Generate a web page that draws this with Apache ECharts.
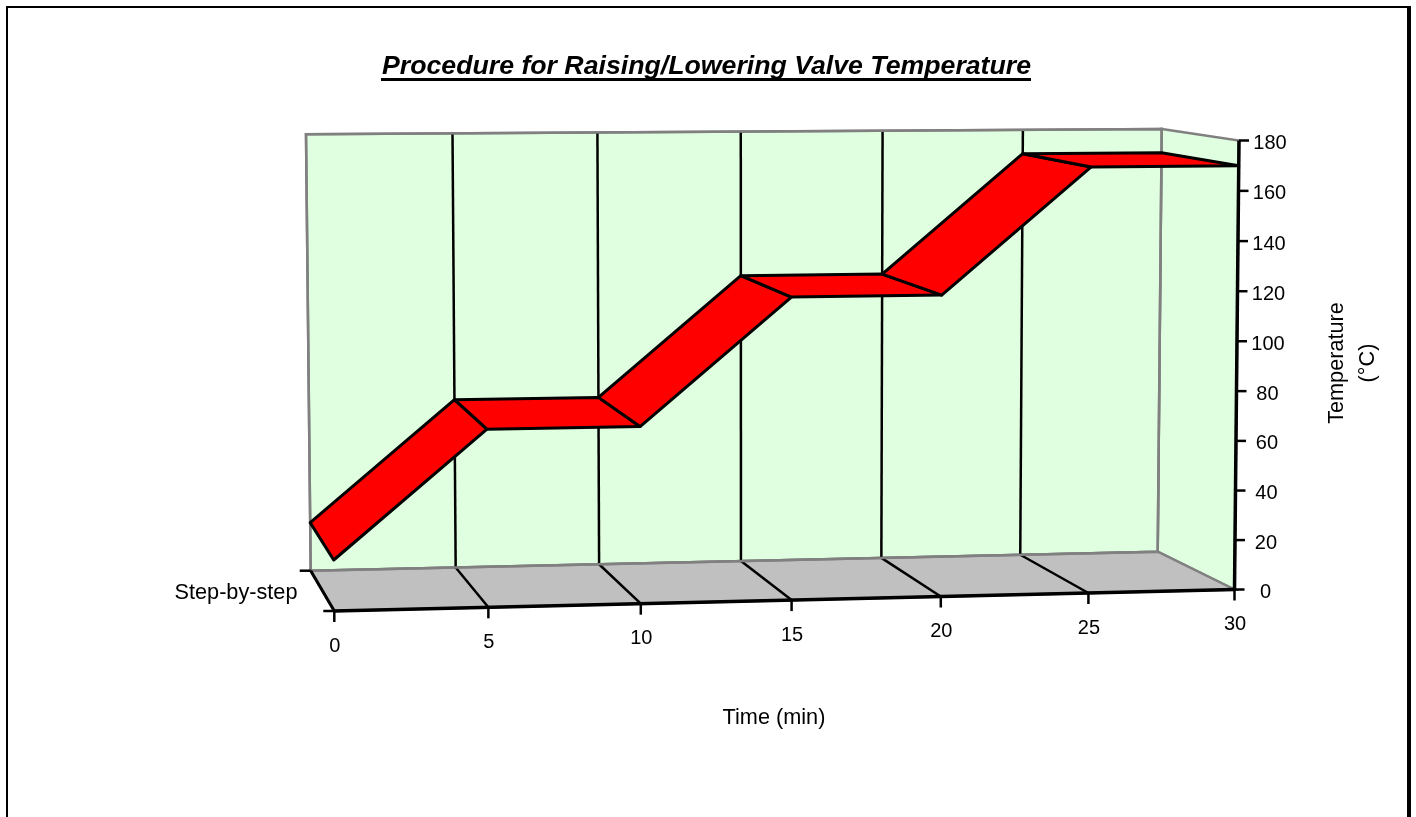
<!DOCTYPE html>
<html>
<head>
<meta charset="utf-8">
<style>html,body{margin:0;padding:0;background:#fff}#chart{width:1416px;height:817px}</style>
<script src="https://cdn.jsdelivr.net/npm/echarts@6/dist/echarts.min.js"></script>
</head>
<body>
<div id="chart"></div>
<script>
// Heating programme: time in minutes, valve temperature in degrees Celsius.
const times = [0, 5, 10, 15, 20, 25, 30];
const temperatures = [20, 70, 70, 120, 120, 170, 170];
const timeTicks = [0, 5, 10, 15, 20, 25, 30];
const temperatureTicks = [0, 20, 40, 60, 80, 100, 120, 140, 160, 180];
const seriesName = 'Step-by-step';
const titleText = 'Procedure for Raising/Lowering Valve Temperature';
const timeAxisName = 'Time (min)';
const temperatureAxisName = 'Temperature\n(°C)';

// Where the front and back planes of the box land on the page:
// bottom-left, bottom-right, top-right, top-left.
const FRONT_PLANE = [[334.3, 611], [1234.5, 589.5], [1239, 140.5], [329, 147.5]];
const BACK_PLANE = [[310.7, 570.7], [1157.7, 551.7], [1161.7, 129], [306, 134.3]];

const FONT = '20px "Liberation Sans", Arial, sans-serif';
const NAME_FONT = '21.7px "Liberation Sans", Arial, sans-serif';
const WALL = '#E0FFE0', FLOOR = '#C0C0C0', EDGE = '#808080', INK = '#000', RIBBON = '#FF0000';
const T_MAX = 30, V_MAX = 180;

// Projective map from the unit square onto a quadrilateral.
function planeMap(q) {
  const [[x0, y0], [x1, y1], [x2, y2], [x3, y3]] = q;
  const dx1 = x1 - x2, dx2 = x3 - x2, sx = x0 - x1 + x2 - x3;
  const dy1 = y1 - y2, dy2 = y3 - y2, sy = y0 - y1 + y2 - y3;
  const det = dx1 * dy2 - dx2 * dy1;
  const g = (sx * dy2 - dx2 * sy) / det, h = (dx1 * sy - sx * dy1) / det;
  const a = x1 - x0 + g * x1, b = x3 - x0 + h * x3;
  const d = y1 - y0 + g * y1, e = y3 - y0 + h * y3;
  return (u, v) => {
    const w = g * u + h * v + 1;
    return [(a * u + b * v + x0) / w, (d * u + e * v + y0) / w];
  };
}
const front = planeMap(FRONT_PLANE), back = planeMap(BACK_PLANE);

// Turns (time, temperature) into a page position on the chosen plane,
// going through the cartesian scales of the hidden grid first.
function projector(params, api) {
  const cs = params.coordSys;
  return (t, v, plane) => {
    const p = api.coord([t, v]);
    return plane((p[0] - cs.x) / cs.width, (cs.y + cs.height - p[1]) / cs.height);
  };
}
const poly = (points, style) => ({ type: 'polygon', shape: { points }, style });
const line = (a, b, stroke, lineWidth) => ({
  type: 'line',
  shape: { x1: a[0], y1: a[1], x2: b[0], y2: b[1] },
  style: { stroke, lineWidth, lineCap: 'butt' }
});
const label = (text, x, y, font) => ({
  type: 'text',
  style: { text, x, y, font: font || FONT, fill: INK, align: 'center', verticalAlign: 'middle' }
});

// Back wall, right wall and floor of the box.
function renderBox(params, api) {
  const P = projector(params, api);
  const bl = P(0, 0, back), br = P(T_MAX, 0, back), tr = P(T_MAX, V_MAX, back), tl = P(0, V_MAX, back);
  const fbl = P(0, 0, front), fbr = P(T_MAX, 0, front), ftr = P(T_MAX, V_MAX, front);
  const edge = { stroke: EDGE, lineWidth: 2.5, lineJoin: 'miter' };
  return {
    type: 'group',
    children: [
      poly([br, tr, ftr, fbr], { fill: WALL, ...edge }),
      poly([bl, br, tr, tl], { fill: WALL, ...edge }),
      poly([bl, br, fbr, fbl], { fill: FLOOR, ...edge })
    ]
  };
}

// Time gridline on the back wall and its continuation over the floor.
function renderTimeLine(params, api) {
  const P = projector(params, api);
  const t = api.value(0);
  if (t <= 0 || t >= T_MAX) return { type: 'group', children: [] };
  return {
    type: 'group',
    children: [
      line(P(t, 0, back), P(t, 0, front), INK, 2.5),
      line(P(t, 0, back), P(t, V_MAX, back), INK, 2.5)
    ]
  };
}

// Grey outline of the back wall, lying over the ends of the gridlines.
function renderWallEdge(params, api) {
  const P = projector(params, api);
  return poly([P(0, 0, back), P(T_MAX, 0, back), P(T_MAX, V_MAX, back), P(0, V_MAX, back)],
    { fill: 'none', stroke: EDGE, lineWidth: 2.5, lineJoin: 'miter' });
}

// One stretch of the programme, drawn as a band from the back plane to the front plane.
function renderRibbon(params, api) {
  const P = projector(params, api);
  const t0 = api.value(0), v0 = api.value(1), t1 = api.value(2), v1 = api.value(3);
  return poly([P(t0, v0, back), P(t1, v1, back), P(t1, v1, front), P(t0, v0, front)],
    { fill: RIBBON, stroke: INK, lineWidth: 3, lineJoin: 'round' });
}

// Front edges of the box with the series tick marks and label.
function renderFrontEdges(params, api) {
  const P = projector(params, api);
  const fbl = P(0, 0, front), fbr = P(T_MAX, 0, front), bl = P(0, 0, back), ftr = P(T_MAX, V_MAX, front);
  return {
    type: 'group',
    children: [
      line(bl, fbl, INK, 3),
      line([bl[0] - 11, bl[1]], bl, INK, 2.5),
      line([fbl[0] - 11, fbl[1]], fbl, INK, 2.5),
      line(fbl, fbr, INK, 3.5),
      line(fbr, ftr, INK, 3.5),
      label(seriesName, 236, 593, NAME_FONT)
    ]
  };
}
function renderTimeTick(params, api) {
  const p = projector(params, api)(api.value(0), 0, front);
  return {
    type: 'group',
    children: [
      line(p, [p[0], p[1] + 11], INK, 2.5),
      label(String(api.value(0)), p[0] + 0.5, p[1] + 35)
    ]
  };
}
function renderTemperatureTick(params, api) {
  const p = projector(params, api)(T_MAX, api.value(1), front);
  return {
    type: 'group',
    children: [
      line(p, [p[0] + 10, p[1]], INK, 2.5),
      label(String(api.value(1)), p[0] + 31, p[1] + 3)
    ]
  };
}

const segments = times.slice(1).map((t, i) => [times[i], temperatures[i], t, temperatures[i + 1]]);
const custom = (renderItem, data, encode) => ({
  type: 'custom', coordinateSystem: 'cartesian2d', renderItem, data, encode, silent: true, clip: false
});

const chart = echarts.init(document.getElementById('chart'), null, { renderer: 'canvas' });
chart.setOption({
  animation: false,
  backgroundColor: '#fff',
  grid: { left: 334, top: 140, width: 900, height: 450 },
  xAxis: { type: 'value', min: 0, max: T_MAX, show: false },
  yAxis: { type: 'value', min: 0, max: V_MAX, interval: 20, show: false },
  series: [
    custom(renderBox, [[0, 0]], { x: 0, y: 1 }),
    custom(renderTimeLine, timeTicks.map(t => [t, 0]), { x: 0, y: 1 }),
    custom(renderWallEdge, [[0, 0]], { x: 0, y: 1 }),
    custom(renderRibbon, segments, { x: [0, 2], y: [1, 3] }),
    custom(renderFrontEdges, [[0, 0]], { x: 0, y: 1 }),
    custom(renderTimeTick, timeTicks.map(t => [t, 0]), { x: 0, y: 1 }),
    custom(renderTemperatureTick, temperatureTicks.map(v => [T_MAX, v]), { x: 0, y: 1 })
  ],
  graphic: [
    { type: 'polyline', silent: true,
      shape: { points: [[7, 830], [7, 7], [1409, 7], [1409, 830]] },
      style: { fill: 'none', stroke: INK, lineWidth: 2 } },
    { type: 'rect', silent: true, shape: { x: 1407, y: 6, width: 4, height: 820 }, style: { fill: INK } },
    { type: 'text', silent: true, x: 706.5, y: 67,
      style: { text: titleText, font: 'italic bold 26.7px "Liberation Sans", Arial, sans-serif',
        fill: INK, align: 'center', verticalAlign: 'middle' } },
    { type: 'rect', silent: true, shape: { x: 381, y: 78, width: 650, height: 3 }, style: { fill: INK } },
    { type: 'text', silent: true, x: 774, y: 718,
      style: { text: timeAxisName, font: NAME_FONT, fill: INK, align: 'center', verticalAlign: 'middle' } },
    { type: 'text', silent: true, x: 1353, y: 363, rotation: Math.PI / 2,
      style: { text: temperatureAxisName, font: NAME_FONT, lineHeight: 31, fill: INK, align: 'center', verticalAlign: 'middle' } }
  ]
});
</script>
</body>
</html>
